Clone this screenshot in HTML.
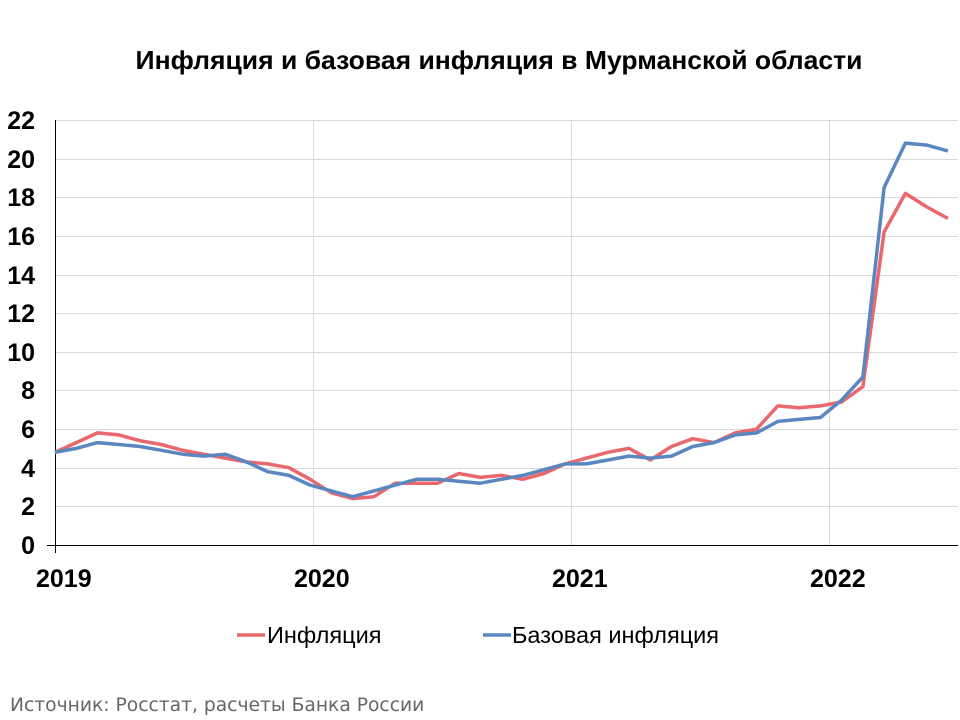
<!DOCTYPE html>
<html><head><meta charset="utf-8"><style>
body{margin:0;background:#fff;}
svg{display:block;font-family:"Liberation Sans",Arial,sans-serif;}
</style></head><body>
<svg width="960" height="720" xmlns="http://www.w3.org/2000/svg">
<text x="499" y="69" text-anchor="middle" font-size="26" font-weight="bold" fill="#000" textLength="727" lengthAdjust="spacingAndGlyphs">Инфляция и базовая инфляция в Мурманской области</text>
<g stroke="#d9d9d9" stroke-width="1">
<line x1="55" x2="958" y1="120.5" y2="120.5"/><line x1="55" x2="958" y1="159.5" y2="159.5"/>
<line x1="55" x2="958" y1="197.5" y2="197.5"/><line x1="55" x2="958" y1="236.5" y2="236.5"/>
<line x1="55" x2="958" y1="275.5" y2="275.5"/><line x1="55" x2="958" y1="313.5" y2="313.5"/>
<line x1="55" x2="958" y1="352.5" y2="352.5"/><line x1="55" x2="958" y1="390.5" y2="390.5"/>
<line x1="55" x2="958" y1="429.5" y2="429.5"/><line x1="55" x2="958" y1="468.5" y2="468.5"/>
<line x1="55" x2="958" y1="506.5" y2="506.5"/>
<line x1="313.5" x2="313.5" y1="120" y2="545"/><line x1="571.5" x2="571.5" y1="120" y2="545"/>
<line x1="829.5" x2="829.5" y1="120" y2="545"/>
</g>
<line x1="47" x2="958" y1="545.5" y2="545.5" stroke="#000" stroke-width="1"/>
<line x1="55.5" x2="55.5" y1="120" y2="553" stroke="#000" stroke-width="1"/>
<g font-size="25" font-weight="bold" text-anchor="end" fill="#000">
<text x="35" y="129">22</text><text x="35" y="168">20</text><text x="35" y="206">18</text>
<text x="35" y="245">16</text><text x="35" y="284">14</text><text x="35" y="322">12</text>
<text x="35" y="361">10</text><text x="35" y="399">8</text><text x="35" y="438">6</text>
<text x="35" y="477">4</text><text x="35" y="515">2</text><text x="35" y="554">0</text>
</g>
<g font-size="25" font-weight="bold" fill="#000">
<text x="36" y="587">2019</text><text x="294" y="587">2020</text><text x="552" y="587">2021</text><text x="810" y="587">2022</text>
</g>
<polyline id="r" fill="none" stroke="#e8686d" stroke-width="3.5" stroke-linejoin="round" points=""/>
<polyline id="b" fill="none" stroke="#5b87c0" stroke-width="3.5" stroke-linejoin="round" points=""/>
<line x1="237" x2="265" y1="635" y2="635" stroke="#e8686d" stroke-width="3.5"/>
<text x="267" y="643" font-size="23.5" fill="#000">Инфляция</text>
<line x1="483" x2="511" y1="635" y2="635" stroke="#5b87c0" stroke-width="3.5"/>
<text x="512" y="643" font-size="23.5" fill="#000">Базовая инфляция</text>
<text x="10" y="711" font-size="18.7" fill="#666" font-family="'DejaVu Sans',sans-serif">Источник: Росстат, расчеты Банка России</text>
<script>
var R=[4.8,5.3,5.8,5.7,5.4,5.2,4.9,4.7,4.5,4.3,4.2,4.0,3.4,2.7,2.4,2.5,3.2,3.2,3.2,3.7,3.5,3.6,3.4,3.7,4.2,4.5,4.8,5.0,4.4,5.1,5.5,5.3,5.8,6.0,7.2,7.1,7.2,7.4,8.2,16.2,18.2,17.5,16.9];
var B=[4.8,5.0,5.3,5.2,5.1,4.9,4.7,4.6,4.7,4.3,3.8,3.6,3.1,2.8,2.5,2.8,3.1,3.4,3.4,3.3,3.2,3.4,3.6,3.9,4.2,4.2,4.4,4.6,4.5,4.6,5.1,5.3,5.7,5.8,6.4,6.5,6.6,7.5,8.7,18.5,20.8,20.7,20.4];
function p(a){return a.map(function(v,i){return (55+i*21.26).toFixed(1)+','+(545-v*19.32).toFixed(1)}).join(' ')}
document.getElementById('r').setAttribute('points',p(R));
document.getElementById('b').setAttribute('points',p(B));
</script>
</svg>
</body></html>
